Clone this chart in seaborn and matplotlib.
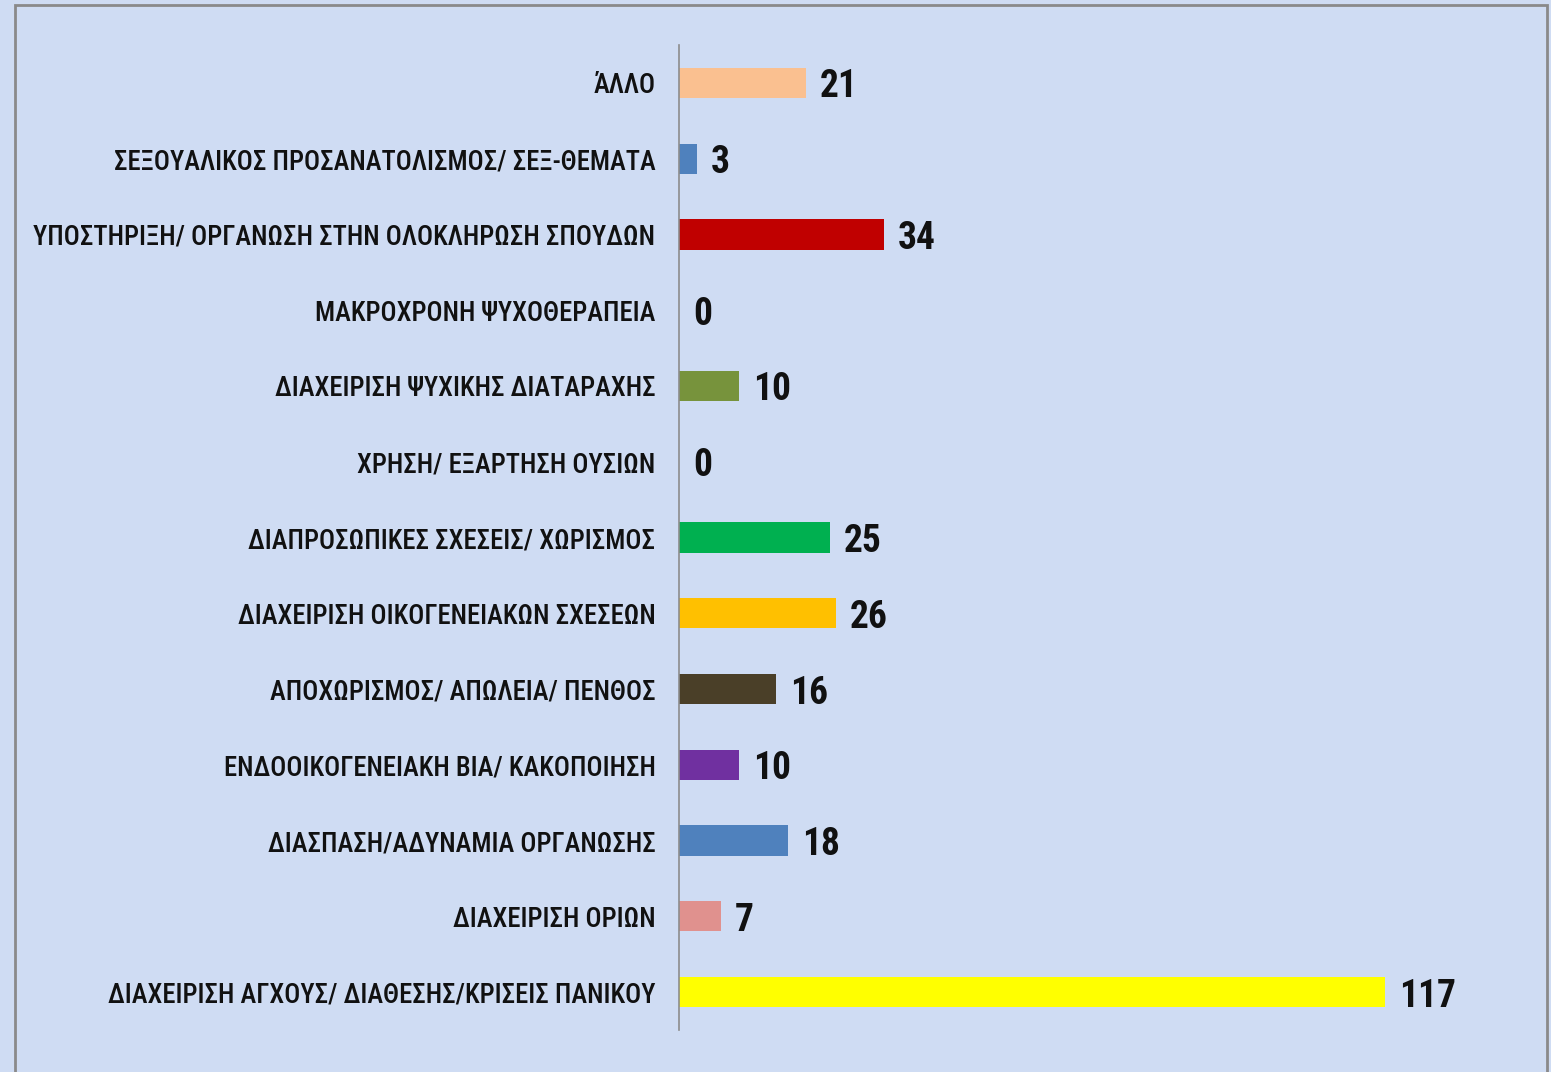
import matplotlib
matplotlib.use("Agg")
import matplotlib.pyplot as plt
import seaborn as sns
import pandas as pd
from matplotlib import font_manager
from matplotlib.patches import Rectangle

categories = [
    "ΆΛΛΟ",
    "ΣΕΞΟΥΑΛΙΚΟΣ ΠΡΟΣΑΝΑΤΟΛΙΣΜΟΣ/ ΣΕΞ-ΘΕΜΑΤΑ",
    "ΥΠΟΣΤΗΡΙΞΗ/ ΟΡΓΑΝΩΣΗ ΣΤΗΝ ΟΛΟΚΛΗΡΩΣΗ ΣΠΟΥΔΩΝ",
    "ΜΑΚΡΟΧΡΟΝΗ ΨΥΧΟΘΕΡΑΠΕΙΑ",
    "ΔΙΑΧΕΙΡΙΣΗ ΨΥΧΙΚΗΣ ΔΙΑΤΑΡΑΧΗΣ",
    "ΧΡΗΣΗ/ ΕΞΑΡΤΗΣΗ ΟΥΣΙΩΝ",
    "ΔΙΑΠΡΟΣΩΠΙΚΕΣ ΣΧΕΣΕΙΣ/ ΧΩΡΙΣΜΟΣ",
    "ΔΙΑΧΕΙΡΙΣΗ ΟΙΚΟΓΕΝΕΙΑΚΩΝ ΣΧΕΣΕΩΝ",
    "ΑΠΟΧΩΡΙΣΜΟΣ/ ΑΠΩΛΕΙΑ/ ΠΕΝΘΟΣ",
    "ΕΝΔΟΟΙΚΟΓΕΝΕΙΑΚΗ ΒΙΑ/ ΚΑΚΟΠΟΙΗΣΗ",
    "ΔΙΑΣΠΑΣΗ/ΑΔΥΝΑΜΙΑ ΟΡΓΑΝΩΣΗΣ",
    "ΔΙΑΧΕΙΡΙΣΗ ΟΡΙΩΝ",
    "ΔΙΑΧΕΙΡΙΣΗ ΑΓΧΟΥΣ/ ΔΙΑΘΕΣΗΣ/ΚΡΙΣΕΙΣ ΠΑΝΙΚΟΥ",
]
values = [21, 3, 34, 0, 10, 0, 25, 26, 16, 10, 18, 7, 117]
colors = [
    "#fac090", "#4f81bd", "#c00000", "#4f81bd", "#77933c", "#4f81bd",
    "#00b050", "#ffc000", "#4a3f28", "#7030a0", "#4f81bd", "#e0918e",
    "#ffff00",
]

df = pd.DataFrame({"category": categories, "value": values})

# pick a narrow face if one is installed
names = sorted({f.name for f in font_manager.fontManager.ttflist})
narrow = [n for n in ["Liberation Sans Narrow", "DejaVu Sans Condensed",
                      "Roboto Condensed", "Open Sans Condensed"] if n in names]
narrow += [n for n in names if ("Narrow" in n or "Condensed" in n) and n not in narrow]
label_font = narrow[0] if narrow else "Liberation Sans"
plt.rcParams["font.family"] = [label_font, "DejaVu Sans"]

fig = plt.figure(figsize=(15.51, 10.72), dpi=100)
fig.patch.set_facecolor("#cfdcf3")
fig.patches.append(Rectangle((15 / 1551, -0.01), 1532 / 1551, 1.0 - 5 / 1072 + 0.01,
                             transform=fig.transFigure, fill=False,
                             edgecolor="#8a8a8a", linewidth=2))

ax = fig.add_axes([679 / 1551, 1 - 1030 / 1072, (1530 - 679) / 1551, 985 / 1072])
ax.set_facecolor("none")

sns.barplot(data=df, x="value", y="category", hue="category", palette=colors,
            orient="h", width=0.4, legend=False, ax=ax, saturation=1)

ax.set_xlim(0, 141)
ax.set_ylim(len(categories) - 0.5, -0.5)
ax.set_xlabel("")
ax.set_ylabel("")
ax.set_xticks([])
ax.tick_params(axis="y", length=0, pad=17, labelsize=20, labelcolor="#111111")
for t in ax.get_yticklabels():
    t.set_fontweight("medium")
for side in ["top", "right", "bottom"]:
    ax.spines[side].set_visible(False)
ax.spines["left"].set_color("#8c8c8c")
ax.spines["left"].set_linewidth(1.2)

# fit longest label to the width it has in the reference (~622 px)
fig.canvas.draw()
renderer = fig.canvas.get_renderer()
widest = max(t.get_window_extent(renderer).width for t in ax.get_yticklabels())
ax.tick_params(axis="y", labelsize=min(24, 20 * 622 / widest))

for i, v in enumerate(values):
    ax.annotate(str(v), xy=(v, i), xytext=(14, -4), textcoords="offset pixels",
                ha="left", va="center", fontsize=27, fontweight="bold",
                color="#111111")

fig.savefig("out.png", dpi=100, facecolor=fig.get_facecolor())
